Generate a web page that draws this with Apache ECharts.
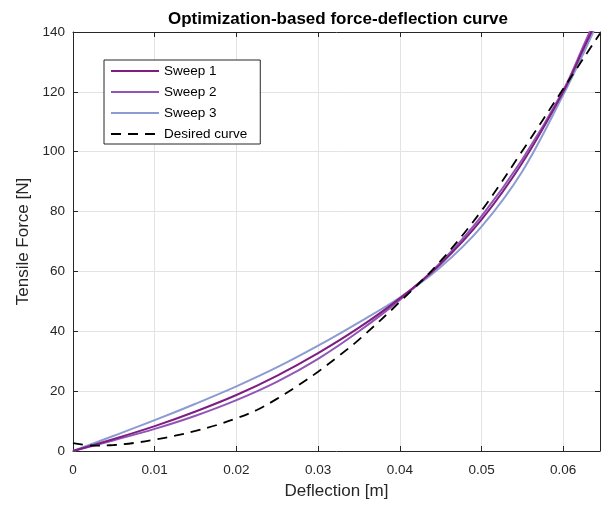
<!DOCTYPE html>
<html>
<head>
<meta charset="utf-8">
<script src="https://cdn.jsdelivr.net/npm/echarts@6/dist/echarts.min.js"></script>
<style>
html,body{margin:0;padding:0;background:#fff;}
#chart{width:603px;height:506px;}
</style>
</head>
<body>
<div id="chart"></div>
<script>
// ---- data ----
var sweepX   = [0, 0.005, 0.01, 0.015, 0.02, 0.025, 0.03, 0.035, 0.04, 0.045, 0.05, 0.055, 0.06, 0.0625, 0.0645];
var sweep1   = [0, 4.0, 8.3, 13.2, 18.7, 25.2, 32.7, 41.2, 51.0, 62.5, 77.3, 96.3, 120.0, 134.5, 146.0];
var sweep2   = [0, 3.6, 7.4, 11.8, 17.0, 23.2, 30.8, 40.0, 50.5, 63.0, 78.5, 97.5, 120.5, 135.5, 148.0];
var sweep3   = [0, 5.1, 10.3, 15.8, 21.6, 28.0, 35.2, 43.0, 51.3, 61.5, 75.0, 93.5, 119.0, 133.0, 145.0];
var desiredX = [0, 0.0025, 0.005, 0.0075, 0.01, 0.0125, 0.015, 0.0175, 0.02, 0.0225, 0.025, 0.0275, 0.03, 0.0325, 0.035, 0.04, 0.045, 0.05, 0.055, 0.06, 0.0645];
var desired  = [2.6, 1.8, 2.0, 2.7, 3.8, 5.1, 6.7, 8.6, 10.9, 13.7, 17.5, 21.8, 26.5, 31.7, 37.2, 49.8, 63.5, 80.3, 100.3, 121.0, 139.5];
var seriesNames = ['Sweep 1', 'Sweep 2', 'Sweep 3', 'Desired curve'];
var xTicks = [0, 0.01, 0.02, 0.03, 0.04, 0.05, 0.06];
var yTicks = [0, 20, 40, 60, 80, 100, 120, 140];

function pairs(xs, ys){ return xs.map(function(x,i){ return [x, ys[i]]; }); }

var FONT = '"Liberation Sans", Arial, Helvetica, sans-serif';
var AX = '#262626';
var chart = echarts.init(document.getElementById('chart'), null, {renderer:'canvas'});

var xFmt = function(v){ var r = Math.round(v*100)/100; return r === 0 ? '0' : String(r); };

var option = {
  backgroundColor: '#ffffff',
  animation: false,
  title: {
    text: 'Optimization-based force-deflection curve',
    left: 333, top: 6, textAlign: 'center',
    textStyle: {fontFamily: FONT, fontSize: 17, fontWeight: 'bold', color: '#000'}
  },
  grid: {left: 73, right: 3, top: 32, bottom: 55, containLabel: false},
  legend: {
    orient: 'vertical', left: 104, top: 60,
    padding: [4, 13, 3, 6],
    itemWidth: 48, itemHeight: 14, itemGap: 7,
    backgroundColor: '#fff', borderColor: AX, borderWidth: 1,
    itemStyle: {opacity: 0},
    textStyle: {fontFamily: FONT, fontSize: 13.5, color: '#000'},
    data: seriesNames
  },
  xAxis: [{
    type: 'value', min: 0, max: 0.0645, interval: 0.01,
    name: 'Deflection [m]', nameLocation: 'middle', nameGap: 32,
    nameTextStyle: {fontFamily: FONT, fontSize: 17, color: AX},
    axisLine: {show: true, onZero: false, lineStyle: {color: AX, width: 1}},
    axisTick: {show: true, inside: true, length: 5, lineStyle: {color: AX}},
    axisLabel: {fontFamily: FONT, fontSize: 13.5, color: AX, margin: 12, showMaxLabel: false,
      formatter: function(v){ return xTicks.some(function(t){return Math.abs(t-v)<1e-9;}) ? xFmt(v) : ''; }},
    splitLine: {show: true, lineStyle: {color: '#e3e3e3', width: 1}}
  },{
    type: 'value', position: 'top', min: 0, max: 0.0645, interval: 0.01,
    axisLine: {show: true, onZero: false, lineStyle: {color: AX, width: 1}},
    axisTick: {show: true, inside: true, length: 5, lineStyle: {color: AX}},
    axisLabel: {show: false}, splitLine: {show: false}
  }],
  yAxis: [{
    type: 'value', min: 0, max: 140, interval: 20,
    name: 'Tensile Force [N]', nameLocation: 'middle', nameGap: 40,
    nameTextStyle: {fontFamily: FONT, fontSize: 17, color: AX},
    axisLine: {show: true, onZero: false, lineStyle: {color: AX, width: 1}},
    axisTick: {show: true, inside: true, length: 5, lineStyle: {color: AX}},
    axisLabel: {fontFamily: FONT, fontSize: 13.5, color: AX, margin: 8,
      formatter: function(v){ return yTicks.indexOf(v) >= 0 ? String(v) : ''; }},
    splitLine: {show: true, lineStyle: {color: '#e3e3e3', width: 1}}
  },{
    type: 'value', position: 'right', min: 0, max: 140, interval: 20,
    axisLine: {show: true, onZero: false, lineStyle: {color: AX, width: 1}},
    axisTick: {show: true, inside: true, length: 5, lineStyle: {color: AX}},
    axisLabel: {show: false}, splitLine: {show: false}
  }],
  series: [
    {name: seriesNames[0], type: 'line', data: pairs(sweepX, sweep1), smooth: 0.35,
     symbol: 'none', clip: true, lineStyle: {color: '#7e1e82', width: 2}, itemStyle: {color: '#7e1e82'}, z: 4},
    {name: seriesNames[1], type: 'line', data: pairs(sweepX, sweep2), smooth: 0.35,
     symbol: 'none', clip: true, lineStyle: {color: '#9255b6', width: 2}, itemStyle: {color: '#9255b6'}, z: 3},
    {name: seriesNames[2], type: 'line', data: pairs(sweepX, sweep3), smooth: 0.35,
     symbol: 'none', clip: true, lineStyle: {color: '#8c9bd1', width: 2}, itemStyle: {color: '#8c9bd1'}, z: 2},
    {name: seriesNames[3], type: 'line', data: pairs(desiredX, desired), smooth: 0.35,
     symbol: 'none', clip: true, lineStyle: {color: '#000', width: 1.8, type: [10, 7]}, itemStyle: {color: '#000'}, z: 5}
  ]
};
chart.setOption(option);
</script>
</body>
</html>
